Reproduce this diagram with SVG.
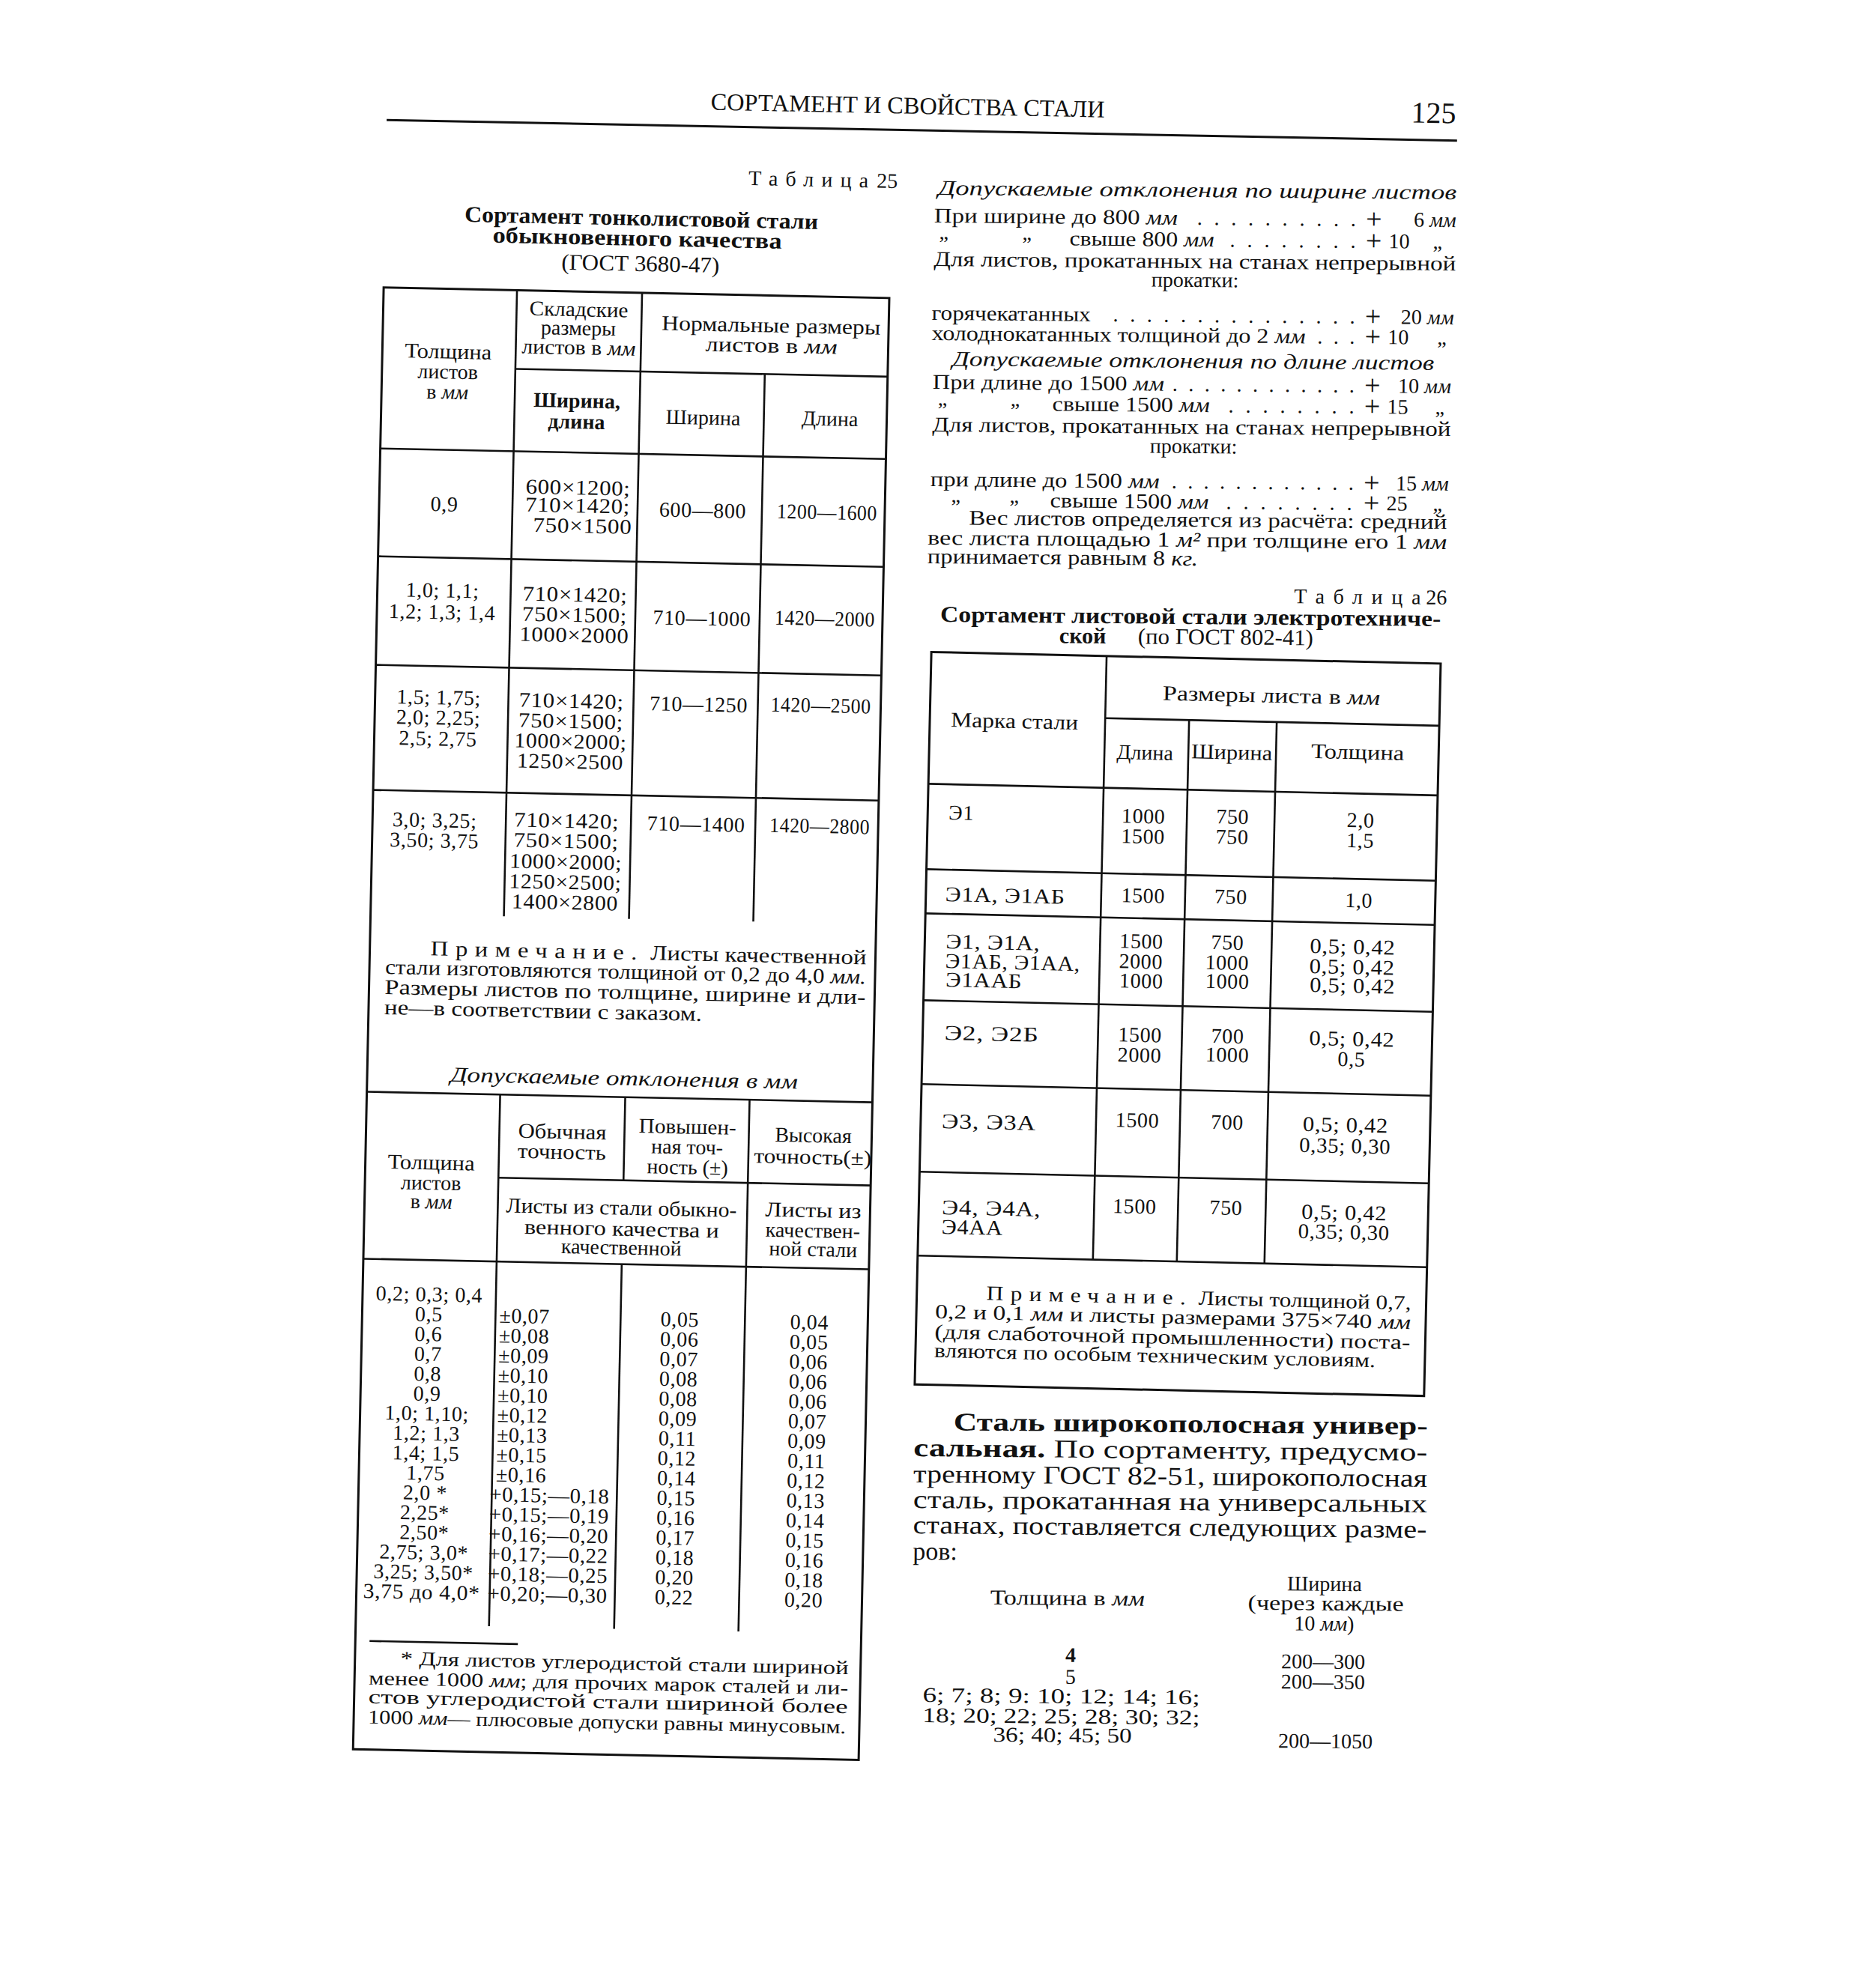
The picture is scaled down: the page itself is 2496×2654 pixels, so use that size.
<svg xmlns="http://www.w3.org/2000/svg" width="2496" height="2654" viewBox="0 0 2496 2654">
<style>
text{font-family:"Liberation Serif","DejaVu Serif",serif;font-size:28px;fill:#111}
.c{text-anchor:middle}
.e{text-anchor:end}
.b{font-weight:bold}
.i{font-style:italic}
.s{font-size:28px}
.n{font-size:28px;letter-spacing:0.6px}
.p{font-size:38px}
.L{stroke:#111;stroke-width:2.6;fill:none}
.F{stroke:#111;stroke-width:3;fill:none}
</style>
<rect width="2496" height="2654" fill="#fff"/>

<g id="page-header" transform="rotate(1.1 1230 170)">
<text x="948" y="152" textLength="526" lengthAdjust="spacingAndGlyphs" style="font-size:32px">СОРТАМЕНТ И СВОЙСТВА СТАЛИ</text>
<text x="1943" y="151" class="e" style="font-size:40px">125</text>
<line x1="516" y1="174" x2="1945" y2="174" class="F"/>
</g>

<g id="left-column" transform="rotate(1.2 850 1300)">
<g id="t25-caption">
<text x="977" y="244" textLength="160" class="s">Таблица</text>
<text x="1176" y="244" class="e s">25</text>
<text x="835" y="301" class="c b" style="font-size:30px" textLength="472" lengthAdjust="spacingAndGlyphs">Сортамент тонколистовой стали</text>
<text x="830" y="328" class="c b" style="font-size:30px" textLength="386" lengthAdjust="spacingAndGlyphs">обыкновенного  качества</text>
<text x="835" y="362" class="c" style="font-size:30px" textLength="211" lengthAdjust="spacingAndGlyphs">(ГОСТ  3680-47)</text>
</g>
<g id="left-frame">
<rect x="493" y="391" width="675" height="1952" class="F"/>
<line x1="671" y1="496" x2="1168" y2="496" class="L"/>
<line x1="493" y1="606" x2="1168" y2="606" class="L"/>
<line x1="493" y1="750" x2="1168" y2="750" class="L"/>
<line x1="493" y1="895" x2="1168" y2="895" class="L"/>
<line x1="493" y1="1062" x2="1168" y2="1062" class="L"/>
<line x1="671" y1="391" x2="671" y2="1227" class="L"/>
<line x1="838" y1="391" x2="838" y2="1227" class="L"/>
<line x1="1004" y1="496" x2="1004" y2="1227" class="L"/>
<line x1="493" y1="1465" x2="1168" y2="1465" class="L"/>
<line x1="671" y1="1576" x2="1168" y2="1576" class="L"/>
<line x1="493" y1="1688" x2="1168" y2="1688" class="L"/>
<line x1="671" y1="1465" x2="671" y2="2175" class="L"/>
<line x1="838" y1="1465" x2="838" y2="1576" class="L"/>
<line x1="838" y1="1688" x2="838" y2="2175" class="L"/>
<line x1="1004" y1="1465" x2="1004" y2="2175" class="L"/>
<line x1="512" y1="2198" x2="710" y2="2198" class="L"/>
</g>
<g id="t25-head">
<text x="581" y="484" class="c" textLength="116" lengthAdjust="spacingAndGlyphs">Толщина</text>
<text x="581" y="511" class="c">листов</text>
<text x="581" y="538" class="c">в <tspan class="i">мм</tspan></text>
<text x="754" y="424" class="c" textLength="132" lengthAdjust="spacingAndGlyphs">Складские</text>
<text x="754" y="449" class="c">размеры</text>
<text x="755" y="475" class="c" textLength="152" lengthAdjust="spacingAndGlyphs">листов в <tspan class="i">мм</tspan></text>
<text x="754" y="546" class="c b">Ширина,</text>
<text x="754" y="574" class="c b">длина</text>
<text x="1011" y="440" class="c" textLength="292" lengthAdjust="spacingAndGlyphs">Нормальные размеры</text>
<text x="1012" y="467" class="c" textLength="176" lengthAdjust="spacingAndGlyphs">листов  в <tspan class="i">мм</tspan></text>
<text x="923" y="565" class="c">Ширина</text>
<text x="1092" y="563" class="c">Длина</text>
</g>
<g id="t25-body" class="n">
<text x="580" y="688" class="c n">0,9</text>
<text x="758" y="662" class="c n" textLength="140" lengthAdjust="spacingAndGlyphs">600×1200;</text>
<text x="758" y="686" class="c n" textLength="140" lengthAdjust="spacingAndGlyphs">710×1420;</text>
<text x="765" y="713" class="c n" textLength="132" lengthAdjust="spacingAndGlyphs">750×1500</text>
<text x="925" y="689" class="c n">600—800</text>
<text x="1091" y="688" class="c n" textLength="134" lengthAdjust="spacingAndGlyphs">1200—1600</text>

<text x="580" y="803" class="c n">1,0; 1,1;</text>
<text x="580" y="832" class="c n">1,2; 1,3; 1,4</text>
<text x="757" y="805" class="c n" textLength="140" lengthAdjust="spacingAndGlyphs">710×1420;</text>
<text x="757" y="832" class="c n" textLength="140" lengthAdjust="spacingAndGlyphs">750×1500;</text>
<text x="757" y="859" class="c n" textLength="146" lengthAdjust="spacingAndGlyphs">1000×2000</text>
<text x="927" y="833" class="c n">710—1000</text>
<text x="1091" y="830" class="c n" textLength="134" lengthAdjust="spacingAndGlyphs">1420—2000</text>

<text x="578" y="946" class="c n">1,5; 1,75;</text>
<text x="578" y="973" class="c n">2,0; 2,25;</text>
<text x="578" y="1001" class="c n">2,5; 2,75</text>
<text x="755" y="947" class="c n" textLength="140" lengthAdjust="spacingAndGlyphs">710×1420;</text>
<text x="755" y="974" class="c n" textLength="140" lengthAdjust="spacingAndGlyphs">750×1500;</text>
<text x="755" y="1001" class="c n" textLength="150" lengthAdjust="spacingAndGlyphs">1000×2000;</text>
<text x="755" y="1028" class="c n" textLength="142" lengthAdjust="spacingAndGlyphs">1250×2500</text>
<text x="925" y="948" class="c n">710—1250</text>
<text x="1088" y="946" class="c n" textLength="134" lengthAdjust="spacingAndGlyphs">1420—2500</text>

<text x="576" y="1110" class="c n">3,0; 3,25;</text>
<text x="576" y="1137" class="c n">3,50; 3,75</text>
<text x="752" y="1107" class="c n" textLength="140" lengthAdjust="spacingAndGlyphs">710×1420;</text>
<text x="752" y="1134" class="c n" textLength="140" lengthAdjust="spacingAndGlyphs">750×1500;</text>
<text x="752" y="1162" class="c n" textLength="150" lengthAdjust="spacingAndGlyphs">1000×2000;</text>
<text x="752" y="1189" class="c n" textLength="150" lengthAdjust="spacingAndGlyphs">1250×2500;</text>
<text x="752" y="1216" class="c n" textLength="142" lengthAdjust="spacingAndGlyphs">1400×2800</text>
<text x="925" y="1108" class="c n">710—1400</text>
<text x="1090" y="1107" class="c n" textLength="134" lengthAdjust="spacingAndGlyphs">1420—2800</text>
</g>
<g id="t25-note">
<text x="574" y="1281" textLength="582" lengthAdjust="spacingAndGlyphs"><tspan letter-spacing="8">Примечание.</tspan>  Листы  качественной</text>
<text x="514" y="1307" textLength="642" lengthAdjust="spacingAndGlyphs">стали изготовляются толщиной от 0,2 до 4,0 <tspan class="i">мм.</tspan></text>
<text x="514" y="1334" textLength="642" lengthAdjust="spacingAndGlyphs">Размеры листов по толщине, ширине и дли-</text>
<text x="514" y="1361" textLength="424" lengthAdjust="spacingAndGlyphs">не—в соответствии с заказом.</text>
</g>
<g id="dev-head">
<text x="604" y="1449" class="i" textLength="464" lengthAdjust="spacingAndGlyphs">Допускаемые отклонения в мм</text>
<text x="581" y="1567" class="c" textLength="116" lengthAdjust="spacingAndGlyphs">Толщина</text>
<text x="581" y="1594" class="c">листов</text>
<text x="582" y="1619" class="c">в  <tspan class="i">мм</tspan></text>
<text x="755" y="1522" class="c" textLength="118" lengthAdjust="spacingAndGlyphs">Обычная</text>
<text x="755" y="1549" class="c" textLength="118" lengthAdjust="spacingAndGlyphs">точность</text>
<text x="922" y="1512" class="c" textLength="130" lengthAdjust="spacingAndGlyphs">Повышен-</text>
<text x="922" y="1539" class="c">ная точ-</text>
<text x="923" y="1566" class="c">ность (±)</text>
<text x="1090" y="1520" class="c">Высокая</text>
<text x="1090" y="1549" class="c" textLength="157" lengthAdjust="spacingAndGlyphs">точность(±)</text>
<text x="836" y="1622" class="c" textLength="308" lengthAdjust="spacingAndGlyphs">Листы из стали обыкно-</text>
<text x="837" y="1650" class="c" textLength="260" lengthAdjust="spacingAndGlyphs">венного качества и</text>
<text x="837" y="1675" class="c">качественной</text>
<text x="1092" y="1620" class="c" textLength="128" lengthAdjust="spacingAndGlyphs">Листы  из</text>
<text x="1092" y="1647" class="c">качествен-</text>
<text x="1093" y="1672" class="c">ной стали</text>
</g>
<g id="dev-body">
<text x="582" y="1743" class="c n">0,2; 0,3; 0,4</text>
<text x="582" y="1769.5" class="c n">0,5</text>
<text x="582" y="1796" class="c n">0,6</text>
<text x="582" y="1822.5" class="c n">0,7</text>
<text x="582" y="1849" class="c n">0,8</text>
<text x="582" y="1875.5" class="c n">0,9</text>
<text x="582" y="1902" class="c n">1,0; 1,10;</text>
<text x="582" y="1928.5" class="c n">1,2;  1,3</text>
<text x="582" y="1955" class="c n">1,4; 1,5</text>
<text x="582" y="1981.5" class="c n">1,75</text>
<text x="582" y="2008" class="c n">2,0 *</text>
<text x="582" y="2034.5" class="c n">2,25*</text>
<text x="582" y="2061" class="c n">2,50*</text>
<text x="582" y="2087.5" class="c n">2,75; 3,0*</text>
<text x="582" y="2114" class="c n">3,25; 3,50*</text>
<text x="580" y="2140.5" class="c n" textLength="156" lengthAdjust="spacingAndGlyphs">3,75 до 4,0*</text>

<text x="676" y="1769.5" class="n">±0,07</text>
<text x="676" y="1796" class="n">±0,08</text>
<text x="676" y="1822.5" class="n">±0,09</text>
<text x="676" y="1849" class="n">±0,10</text>
<text x="676" y="1875.5" class="n">±0,10</text>
<text x="676" y="1902" class="n">±0,12</text>
<text x="676" y="1928.5" class="n">±0,13</text>
<text x="676" y="1955" class="n">±0,15</text>
<text x="676" y="1981.5" class="n">±0,16</text>
<text x="668" y="2008" class="n" textLength="160" lengthAdjust="spacingAndGlyphs">+0,15;—0,18</text>
<text x="668" y="2034.5" class="n" textLength="160" lengthAdjust="spacingAndGlyphs">+0,15;—0,19</text>
<text x="668" y="2061" class="n" textLength="160" lengthAdjust="spacingAndGlyphs">+0,16;—0,20</text>
<text x="668" y="2087.5" class="n" textLength="160" lengthAdjust="spacingAndGlyphs">+0,17;—0,22</text>
<text x="668" y="2114" class="n" textLength="160" lengthAdjust="spacingAndGlyphs">+0,18;—0,25</text>
<text x="668" y="2140.5" class="n" textLength="160" lengthAdjust="spacingAndGlyphs">+0,20;—0,30</text>

<text x="917" y="1769.5" class="c n">0,05</text>
<text x="917" y="1796" class="c n">0,06</text>
<text x="917" y="1822.5" class="c n">0,07</text>
<text x="917" y="1849" class="c n">0,08</text>
<text x="917" y="1875.5" class="c n">0,08</text>
<text x="917" y="1902" class="c n">0,09</text>
<text x="917" y="1928.5" class="c n">0,11</text>
<text x="917" y="1955" class="c n">0,12</text>
<text x="917" y="1981.5" class="c n">0,14</text>
<text x="917" y="2008" class="c n">0,15</text>
<text x="917" y="2034.5" class="c n">0,16</text>
<text x="917" y="2061" class="c n">0,17</text>
<text x="917" y="2087.5" class="c n">0,18</text>
<text x="917" y="2114" class="c n">0,20</text>
<text x="917" y="2140.5" class="c n">0,22</text>

<text x="1090" y="1769.5" class="c n">0,04</text>
<text x="1090" y="1796" class="c n">0,05</text>
<text x="1090" y="1822.5" class="c n">0,06</text>
<text x="1090" y="1849" class="c n">0,06</text>
<text x="1090" y="1875.5" class="c n">0,06</text>
<text x="1090" y="1902" class="c n">0,07</text>
<text x="1090" y="1928.5" class="c n">0,09</text>
<text x="1090" y="1955" class="c n">0,11</text>
<text x="1090" y="1981.5" class="c n">0,12</text>
<text x="1090" y="2008" class="c n">0,13</text>
<text x="1090" y="2034.5" class="c n">0,14</text>
<text x="1090" y="2061" class="c n">0,15</text>
<text x="1090" y="2087.5" class="c n">0,16</text>
<text x="1090" y="2114" class="c n">0,18</text>
<text x="1090" y="2140.5" class="c n">0,20</text>
</g>
<g id="dev-footnote">
<text x="554" y="2229" style="font-size:26px" textLength="598" lengthAdjust="spacingAndGlyphs">*  Для листов углеродистой стали шириной</text>
<text x="512" y="2256" style="font-size:26px" textLength="640" lengthAdjust="spacingAndGlyphs">менее 1000 <tspan class="i">мм</tspan>; для  прочих марок сталей и ли-</text>
<text x="512" y="2281" style="font-size:26px" textLength="640" lengthAdjust="spacingAndGlyphs">стов   углеродистой   стали   шириной   более</text>
<text x="512" y="2308" style="font-size:26px" textLength="638" lengthAdjust="spacingAndGlyphs">1000 <tspan class="i">мм</tspan>— плюсовые допуски равны минусовым.</text>
</g>
</g>

<g id="right-text" transform="rotate(0.5 1590 500)">
<text x="1250" y="263" class="i" textLength="692" lengthAdjust="spacingAndGlyphs">Допускаемые отклонения по ширине листов</text>

<text x="1245" y="300" textLength="325" lengthAdjust="spacingAndGlyphs">При ширине до 800 <tspan class="i">мм</tspan></text>
<text x="1596" y="300" textLength="212">. . . . . . . . . .</text>
<text x="1832" y="303" class="c p">+</text>
<text x="1942" y="300" class="e">6 <tspan class="i">мм</tspan></text>

<text x="1252" y="322">„</text>
<text x="1363" y="322">„</text>
<text x="1426" y="329" textLength="193" lengthAdjust="spacingAndGlyphs">свыше 800 <tspan class="i">мм</tspan></text>
<text x="1640" y="329" textLength="168">. . . . . . . .</text>
<text x="1832" y="332" class="c p">+</text>
<text x="1852" y="329">10</text>
<text x="1911" y="329">„</text>

<text x="1245" y="358" textLength="697" lengthAdjust="spacingAndGlyphs">Для листов, прокатанных на  станах  непрерывной</text>
<text x="1594" y="383" class="c">прокатки:</text>

<text x="1243" y="430" textLength="212" lengthAdjust="spacingAndGlyphs">горячекатанных</text>
<text x="1485" y="430" textLength="323">. . . . . . . . . . . . . . .</text>
<text x="1832" y="433" class="c p">+</text>
<text x="1940" y="430" class="e">20 <tspan class="i">мм</tspan></text>

<text x="1243" y="457" textLength="499" lengthAdjust="spacingAndGlyphs">холоднокатанных толщиной до 2 <tspan class="i">мм</tspan></text>
<text x="1758" y="457" textLength="50">. . .</text>
<text x="1832" y="460" class="c p">+</text>
<text x="1852" y="457">10</text>
<text x="1918" y="457">„</text>

<text x="1271" y="491" class="i" textLength="643" lengthAdjust="spacingAndGlyphs">Допускаемые отклонения  по длине листов</text>

<text x="1245" y="522" textLength="309" lengthAdjust="spacingAndGlyphs">При длине до 1500 <tspan class="i">мм</tspan></text>
<text x="1565" y="522" textLength="243">. . . . . . . . . . . .</text>
<text x="1832" y="525" class="c p">+</text>
<text x="1937" y="522" class="e">10 <tspan class="i">мм</tspan></text>

<text x="1252" y="544">„</text>
<text x="1349" y="544">„</text>
<text x="1405" y="550" textLength="210" lengthAdjust="spacingAndGlyphs">свыше 1500 <tspan class="i">мм</tspan></text>
<text x="1640" y="550" textLength="168">. . . . . . . .</text>
<text x="1832" y="553" class="c p">+</text>
<text x="1852" y="550">15</text>
<text x="1916" y="550">„</text>

<text x="1245" y="579" textLength="692" lengthAdjust="spacingAndGlyphs">Для листов,  прокатанных на  станах непрерывной</text>
<text x="1594" y="605" class="c">прокатки:</text>

<text x="1243" y="652" textLength="306" lengthAdjust="spacingAndGlyphs">при длине до 1500 <tspan class="i">мм</tspan></text>
<text x="1565" y="652" textLength="243">. . . . . . . . . . . .</text>
<text x="1832" y="655" class="c p">+</text>
<text x="1935" y="652" class="e">15 <tspan class="i">мм</tspan></text>

<text x="1271" y="673">„</text>
<text x="1349" y="673">„</text>
<text x="1403" y="679" textLength="212" lengthAdjust="spacingAndGlyphs">свыше 1500 <tspan class="i">мм</tspan></text>
<text x="1638" y="679" textLength="168">. . . . . . . .</text>
<text x="1832" y="682" class="c p">+</text>
<text x="1852" y="679">25</text>
<text x="1914" y="679">„</text>

<text x="1295" y="703" textLength="638" lengthAdjust="spacingAndGlyphs">Вес листов определяется  из расчёта: средний</text>
<text x="1240" y="730" textLength="693" lengthAdjust="spacingAndGlyphs">вес листа площадью 1 <tspan class="i">м²</tspan> при толщине его 1 <tspan class="i">мм</tspan></text>
<text x="1240" y="755" textLength="361" lengthAdjust="spacingAndGlyphs">принимается равным 8 <tspan class="i">кг.</tspan></text>

<text x="1730" y="804" textLength="169">Таблица</text>
<text x="1934" y="804" class="e">26</text>
<text x="1258" y="833" class="b" style="font-size:30px" textLength="668" lengthAdjust="spacingAndGlyphs">Сортамент листовой стали электротехниче-</text>
<text x="1417" y="860" class="b" style="font-size:30px">ской</text>
<text x="1522" y="860" style="font-size:30px" textLength="234" lengthAdjust="spacingAndGlyphs">(по ГОСТ 802-41)</text>
</g>

<g id="table-26" transform="rotate(1.3 1570 1365)">
<g id="t26-lines">
<rect x="1232" y="878" width="680" height="978" class="F"/>
<line x1="1466" y1="878" x2="1466" y2="1684" class="L"/>
<line x1="1466" y1="961" x2="1912" y2="961" class="L"/>
<line x1="1578" y1="961" x2="1578" y2="1684" class="L"/>
<line x1="1695" y1="961" x2="1695" y2="1684" class="L"/>
<line x1="1232" y1="1054" x2="1912" y2="1054" class="L"/>
<line x1="1232" y1="1168" x2="1912" y2="1168" class="L"/>
<line x1="1232" y1="1227" x2="1912" y2="1227" class="L"/>
<line x1="1232" y1="1343" x2="1912" y2="1343" class="L"/>
<line x1="1232" y1="1455" x2="1912" y2="1455" class="L"/>
<line x1="1232" y1="1572" x2="1912" y2="1572" class="L"/>
<line x1="1232" y1="1684" x2="1912" y2="1684" class="L"/>
</g>
<g id="t26-head">
<text x="1345" y="977" class="c" textLength="170" lengthAdjust="spacingAndGlyphs">Марка стали</text>
<text x="1687" y="935" class="c" textLength="290" lengthAdjust="spacingAndGlyphs">Размеры листа в <tspan class="i">мм</tspan></text>
<text x="1520" y="1015" class="c">Длина</text>
<text x="1636" y="1012" class="c" textLength="108" lengthAdjust="spacingAndGlyphs">Ширина</text>
<text x="1804" y="1008" class="c" textLength="124" lengthAdjust="spacingAndGlyphs">Толщина</text>
</g>
<g id="t26-body">
<text x="1260" y="1101" class="n">Э1</text>
<text x="1520" y="1100" class="c n">1000</text>
<text x="1520" y="1127" class="c n">1500</text>
<text x="1639" y="1098" class="c n">750</text>
<text x="1639" y="1125" class="c n">750</text>
<text x="1810" y="1099" class="c n">2,0</text>
<text x="1810" y="1126" class="c n">1,5</text>

<text x="1258" y="1210" class="n" textLength="160" lengthAdjust="spacingAndGlyphs">Э1А, Э1АБ</text>
<text x="1522" y="1206" class="c n">1500</text>
<text x="1639" y="1205" class="c n">750</text>
<text x="1810" y="1206" class="c n">1,0</text>

<text x="1260" y="1273" class="n" textLength="126" lengthAdjust="spacingAndGlyphs">Э1, Э1А,</text>
<text x="1260" y="1299" class="n" textLength="180" lengthAdjust="spacingAndGlyphs">Э1АБ, Э1АА,</text>
<text x="1261" y="1324" class="n" textLength="102" lengthAdjust="spacingAndGlyphs">Э1ААБ</text>
<text x="1521" y="1267" class="c n">1500</text>
<text x="1521" y="1294" class="c n">2000</text>
<text x="1522" y="1320" class="c n">1000</text>
<text x="1636" y="1266" class="c n">750</text>
<text x="1636" y="1293" class="c n">1000</text>
<text x="1637" y="1318" class="c n">1000</text>
<text x="1803" y="1268" class="c n" textLength="114" lengthAdjust="spacingAndGlyphs">0,5; 0,42</text>
<text x="1803" y="1295" class="c n" textLength="114" lengthAdjust="spacingAndGlyphs">0,5; 0,42</text>
<text x="1804" y="1320" class="c n" textLength="114" lengthAdjust="spacingAndGlyphs">0,5; 0,42</text>

<text x="1261" y="1395" class="n" textLength="126" lengthAdjust="spacingAndGlyphs">Э2, Э2Б</text>
<text x="1522" y="1392" class="c n">1500</text>
<text x="1522" y="1419" class="c n">2000</text>
<text x="1639" y="1391" class="c n">700</text>
<text x="1639" y="1416" class="c n">1000</text>
<text x="1805" y="1391" class="c n" textLength="114" lengthAdjust="spacingAndGlyphs">0,5; 0,42</text>
<text x="1805" y="1418" class="c n">0,5</text>

<text x="1260" y="1513" class="n" textLength="126" lengthAdjust="spacingAndGlyphs">Э3, Э3А</text>
<text x="1521" y="1506" class="c n">1500</text>
<text x="1641" y="1506" class="c n">700</text>
<text x="1799" y="1506" class="c n" textLength="114" lengthAdjust="spacingAndGlyphs">0,5; 0,42</text>
<text x="1799" y="1534" class="c n" textLength="122" lengthAdjust="spacingAndGlyphs">0,35; 0,30</text>

<text x="1263" y="1628" class="n" textLength="132" lengthAdjust="spacingAndGlyphs">Э4, Э4А,</text>
<text x="1263" y="1654" class="n" textLength="82" lengthAdjust="spacingAndGlyphs">Э4АА</text>
<text x="1520" y="1621" class="c n">1500</text>
<text x="1642" y="1620" class="c n">750</text>
<text x="1800" y="1623" class="c n" textLength="114" lengthAdjust="spacingAndGlyphs">0,5; 0,42</text>
<text x="1800" y="1649" class="c n" textLength="122" lengthAdjust="spacingAndGlyphs">0,35; 0,30</text>
</g>
<g id="t26-note">
<text x="1325" y="1741" style="font-size:27px" textLength="567" lengthAdjust="spacingAndGlyphs"><tspan letter-spacing="8">Примечание.</tspan> Листы толщиной 0,7,</text>
<text x="1257" y="1767" style="font-size:27px" textLength="635" lengthAdjust="spacingAndGlyphs">0,2 и 0,1 <tspan class="i">мм</tspan> и листы размерами 375×740 <tspan class="i">мм</tspan></text>
<text x="1257" y="1794" style="font-size:27px" textLength="635" lengthAdjust="spacingAndGlyphs">(для  слаботочной  промышленности)  поста-</text>
<text x="1257" y="1819" style="font-size:27px" textLength="589" lengthAdjust="spacingAndGlyphs">вляются по особым техническим условиям.</text>
</g>
</g>

<g id="paragraph" transform="rotate(0.5 1570 2100)">
<text x="1271" y="1912" class="b" style="font-size:34px" textLength="633" lengthAdjust="spacingAndGlyphs">Сталь   широкополосная   универ-</text>
<text x="1218" y="1947" style="font-size:34px" textLength="686" lengthAdjust="spacingAndGlyphs"><tspan class="b">сальная.</tspan>  По  сортаменту,  предусмо-</text>
<text x="1218" y="1982" style="font-size:34px" textLength="686" lengthAdjust="spacingAndGlyphs">тренному ГОСТ 82-51, широкополосная</text>
<text x="1218" y="2016" style="font-size:34px" textLength="686" lengthAdjust="spacingAndGlyphs">сталь,  прокатанная  на  универсальных</text>
<text x="1218" y="2050" style="font-size:34px" textLength="686" lengthAdjust="spacingAndGlyphs">станах, поставляется следующих разме-</text>
<text x="1218" y="2085" style="font-size:34px">ров:</text>

<text x="1425" y="2144" class="c" textLength="206" lengthAdjust="spacingAndGlyphs">Толщина  в <tspan class="i">мм</tspan></text>
<text x="1768" y="2122" class="c">Ширина</text>
<text x="1770" y="2148" class="c" textLength="208" lengthAdjust="spacingAndGlyphs">(через  каждые</text>
<text x="1768" y="2175" class="c">10 <tspan class="i">мм</tspan>)</text>
<text x="1430" y="2220" class="c b">4</text>
<text x="1430" y="2249" class="c">5</text>
<text x="1233" y="2275" textLength="370" lengthAdjust="spacingAndGlyphs">6;  7;  8;  9:  10;  12;  14;  16;</text>
<text x="1233" y="2302" textLength="370" lengthAdjust="spacingAndGlyphs">18;  20;  22;  25;  28;  30;  32;</text>
<text x="1420" y="2327" class="c" textLength="185" lengthAdjust="spacingAndGlyphs">36;  40;  45;  50</text>
<text x="1767" y="2226" class="c">200—300</text>
<text x="1767" y="2253" class="c">200—350</text>
<text x="1771" y="2332" class="c">200—1050</text>
</g>
</svg>
